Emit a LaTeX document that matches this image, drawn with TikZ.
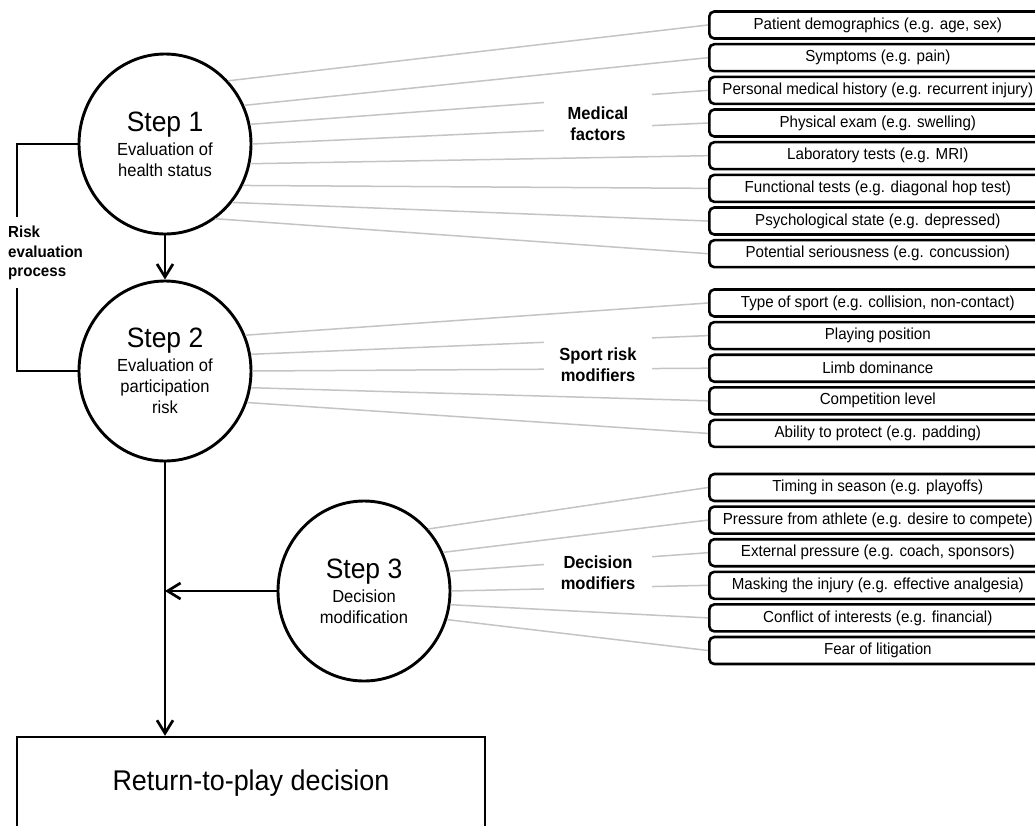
\documentclass[tikz,border=0pt]{standalone}
\usepackage{fontspec}
\setmainfont{Liberation Sans}[FakeStretch=0.945]
\usetikzlibrary{shapes.geometric,arrows.meta}
\definecolor{linegray}{RGB}{196,196,196}
\begin{document}
\begin{tikzpicture}[x=1pt,y=-1pt,
  stepnode/.style={ellipse, draw, line width=2.9pt, minimum width=172pt, minimum height=180pt, inner sep=0pt, align=center, font=\fontsize{17.5}{21}\selectfont},
  itembox/.style={draw, line width=2.6pt, rounded corners=5pt, minimum width=337pt, minimum height=27pt, inner sep=0pt, anchor=west, font=\fontsize{16}{18}\selectfont},
  link/.style={draw=linegray, line width=1.5pt},
  grouplabel/.style={fill=white, inner sep=0pt, minimum width=108pt, minimum height=60pt, align=center, font=\bfseries\fontsize{17.5}{21}\selectfont},
  flow/.style={line width=2.7pt, -{Straight Barb[length=13pt,width=16pt]}},
  bracket/.style={line width=2.8pt}]
\useasboundingbox (0,0) rectangle (1035,825);
\fill[white] (0,0) rectangle (1035,825);
\clip (0,0) rectangle (1035,825);

% step circles
\node[stepnode] (s1) at (165,144) {{\fontsize{28}{28}\selectfont Step 1}\\[3pt]Evaluation of\\health status};
\node[stepnode] (s2) at (165,371) {{\fontsize{28}{28}\selectfont Step 2}\\[3pt]Evaluation of\\participation\\risk};
\node[stepnode] (s3) at (364,591) {{\fontsize{28}{28}\selectfont Step 3}\\[3pt]Decision\\modification};

% medical factors
\foreach \t [count=\i] in {{Patient demographics (e.g. age, sex)},{Symptoms (e.g. pain)},{Personal medical history (e.g. recurrent injury)},{Physical exam (e.g. swelling)},{Laboratory tests (e.g. MRI)},{Functional tests (e.g. diagonal hop test)},{Psychological state (e.g. depressed)},{Potential seriousness (e.g. concussion)}}
  \node[itembox] (m\i) at (708,{25+32.67*(\i-1)}) {\t};
% sport risk modifiers
\foreach \t [count=\i] in {{Type of sport (e.g. collision, non-contact)},{Playing position},{Limb dominance},{Competition level},{Ability to protect (e.g. padding)}}
  \node[itembox] (p\i) at (708,{303+32.6*(\i-1)}) {\t};
% decision modifiers
\foreach \t [count=\i] in {{Timing in season (e.g. playoffs)},{Pressure from athlete (e.g. desire to compete)},{External pressure (e.g. coach, sponsors)},{Masking the injury (e.g. effective analgesia)},{Conflict of interests (e.g. financial)},{Fear of litigation}}
  \node[itembox] (d\i) at (708,{487.5+32.6*(\i-1)}) {\t};

% grey links
\foreach \a [count=\i] in {45,26.6,13.6,0,-13.6,-28,-41,-56}
  \draw[link] (s1.\a) -- (m\i.west);
\foreach \a [count=\i] in {24.6,11.7,0,-11,-21.7}
  \draw[link] (s2.\a) -- (p\i.west);
\foreach \a [count=\i] in {44,26,13,0,-9,-19}
  \draw[link] (s3.\a) -- (d\i.west);

% group labels
\node[grouplabel] (medlab) at (598,124) {Medical\\factors};
\node[grouplabel] (sportlab) at (598,365) {Sport risk\\modifiers};
\node[grouplabel] (declab) at (598,573) {Decision\\modifiers};

% return-to-play box
\node[draw, line width=2.4pt, minimum width=468pt, minimum height=92pt, inner sep=0pt, font=\fontsize{28.5}{30}\selectfont] (rtp) at (251,783) {Return-to-play decision};

% flow arrows
\draw[flow] (s1.south) -- (s2.north);
\draw[flow] (s2.south) -- (s2.south |- rtp.north);
\coordinate (join) at (s2.south |- s3.west);
\draw[flow] (s3.west) -- (join);

% risk evaluation bracket
\node[font=\bfseries\fontsize{16}{19.5}\selectfont, align=left, anchor=west, inner sep=0pt] (risk) at (8,253) {Risk\\evaluation\\process};
\coordinate (b1) at (17,144);
\coordinate (b2) at (17,217);
\coordinate (b3) at (17,288);
\coordinate (b4) at (17,371);
\draw[bracket] (s1.west) -- (b1) -- (b2);
\draw[bracket] (b3) -- (b4) -- (s2.west);
\end{tikzpicture}
\end{document}
